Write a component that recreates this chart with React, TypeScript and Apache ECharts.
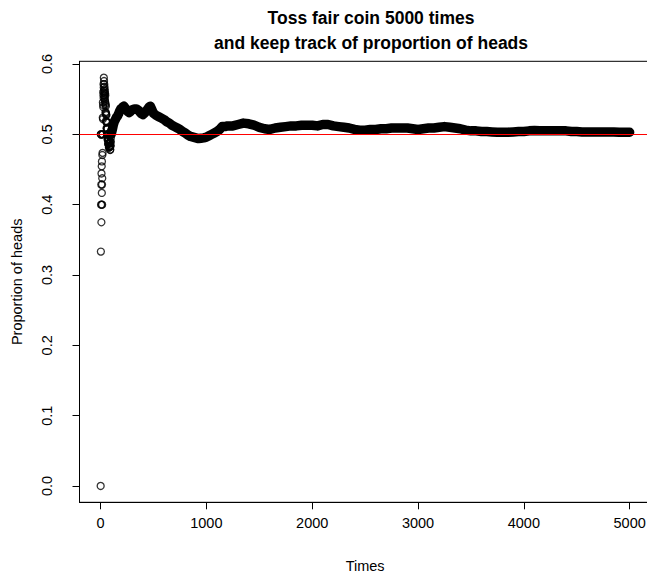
import React, { useEffect, useRef } from "react";
import * as echarts from "echarts";

// Running proportion of heads
// first 100 tosses (one value per toss, times 1..100)
const earlyProportion = [
  0, 0.5, 0.3333, 0.5, 0.4, 0.5, 0.4286, 0.375, 0.4444, 0.4,
  0.4545, 0.4167, 0.4615, 0.4286, 0.4, 0.4375, 0.4706, 0.5, 0.4737, 0.5,
  0.5238, 0.5455, 0.5217, 0.5417, 0.56, 0.5385, 0.5556, 0.5714, 0.5517, 0.5667,
  0.5806, 0.5625, 0.5758, 0.5588, 0.5714, 0.5556, 0.5676, 0.5526, 0.5641, 0.55,
  0.561, 0.5476, 0.5581, 0.5455, 0.5556, 0.5435, 0.5319, 0.5417, 0.5306, 0.54,
  0.5294, 0.5192, 0.5283, 0.5185, 0.5273, 0.5179, 0.5088, 0.5172, 0.5085, 0.5167,
  0.5082, 0.5, 0.5079, 0.5, 0.5077, 0.5, 0.4925, 0.5, 0.4928, 0.5,
  0.493, 0.4861, 0.4932, 0.4865, 0.4933, 0.4868, 0.4935, 0.4872, 0.481, 0.4875,
  0.4815, 0.4878, 0.4819, 0.4881, 0.4824, 0.4884, 0.4828, 0.4886, 0.4831, 0.4778,
  0.4835, 0.4783, 0.4839, 0.4894, 0.4842, 0.4896, 0.4948, 0.5, 0.5051, 0.5,
];

// dense part of the record (times and proportion)
const bandTimes = [
  100, 110, 120, 130, 140, 150, 160, 170, 180, 190, 200, 210, 220, 230, 240, 250,
  260, 270, 280, 290, 300, 320, 340, 360, 380, 400, 420, 440, 460, 470, 480, 500,
  525, 550, 575, 600, 625, 650, 675, 700, 725, 750, 775, 800, 825, 850, 875, 900,
  925, 950, 975, 1000, 1025, 1050, 1075, 1100, 1125, 1150, 1175, 1200, 1250, 1300,
  1350, 1400, 1450, 1500, 1550, 1600, 1650, 1700, 1750, 1800, 1850, 1900, 1950,
  2000, 2050, 2100, 2150, 2200, 2250, 2300, 2350, 2400, 2450, 2500, 2550, 2600,
  2650, 2700, 2750, 2800, 2850, 2900, 2950, 3000, 3050, 3100, 3150, 3200, 3250,
  3300, 3350, 3400, 3450, 3500, 3550, 3600, 3650, 3700, 3750, 3800, 3850, 3900,
  3950, 4000, 4050, 4100, 4150, 4200, 4250, 4300, 4350, 4400, 4450, 4500, 4550,
  4600, 4650, 4700, 4750, 4800, 4850, 4900, 4950, 5000,
];
const bandProportion = [
  0.5, 0.506, 0.513, 0.518, 0.521, 0.524, 0.526, 0.529, 0.533, 0.536, 0.537, 0.539, 0.54, 0.538, 0.536, 0.534,
  0.532, 0.531, 0.532, 0.534, 0.535, 0.536, 0.536, 0.534, 0.53, 0.528, 0.531, 0.535, 0.539, 0.54, 0.537, 0.53,
  0.527, 0.525, 0.523, 0.521, 0.518, 0.516, 0.513, 0.511, 0.509, 0.507, 0.504, 0.502, 0.499, 0.497, 0.496, 0.495,
  0.494, 0.4945, 0.495, 0.496, 0.498, 0.5, 0.502, 0.504, 0.507, 0.511, 0.511, 0.512, 0.512, 0.514,
  0.516, 0.515, 0.513, 0.51, 0.508, 0.507, 0.509, 0.51, 0.511, 0.512, 0.512, 0.513, 0.513,
  0.513, 0.512, 0.514, 0.514, 0.512, 0.511, 0.51, 0.509, 0.507, 0.506, 0.506, 0.507, 0.507,
  0.508, 0.508, 0.509, 0.509, 0.509, 0.509, 0.508, 0.507, 0.508, 0.509, 0.509, 0.51, 0.511,
  0.51, 0.509, 0.508, 0.506, 0.505, 0.505, 0.504, 0.504, 0.5035, 0.503, 0.503, 0.503, 0.5035,
  0.504, 0.504, 0.505, 0.5055, 0.505, 0.505, 0.505, 0.505, 0.505, 0.505, 0.504, 0.504, 0.5035,
  0.5035, 0.5035, 0.5035, 0.5035, 0.5035, 0.5035, 0.503, 0.503, 0.503,
];

const xTicks = [0, 1000, 2000, 3000, 4000, 5000];
const yTicks = [0, 0.1, 0.2, 0.3, 0.4, 0.5, 0.6];
const referenceLevel = 0.5;

const FONT = "'Liberation Sans', Arial, Helvetica, sans-serif";

export default function App() {
  const ref = useRef<HTMLDivElement>(null);

  useEffect(() => {
    if (!ref.current) return;
    const chart = echarts.init(ref.current, null, { renderer: "svg" });

    const earlyData = earlyProportion.map((v, i) => [i + 1, v]);
    const bandData = bandTimes.map((t, i) => [t, bandProportion[i]]);

    chart.setOption({
      animation: false,
      backgroundColor: "#ffffff",
      title: {
        text: "Toss fair coin 5000 times\nand keep track of proportion of heads",
        left: 366,
        top: 0,
        textAlign: "center",
        textStyle: {
          fontFamily: FONT,
          fontSize: 17.5,
          fontWeight: "bold",
          color: "#000",
          lineHeight: 25,
        },
      },
      grid: {
        left: 79.5,
        top: 61.3,
        width: 571.3,
        height: 441,
        show: true,
        borderColor: "#000",
        borderWidth: 1,
        backgroundColor: "transparent",
        outerBoundsMode: "none",
        containLabel: false,
      },
      xAxis: {
        type: "value",
        min: -198.96,
        max: 5199.96,
        splitLine: { show: false },
        axisLine: { show: true, onZero: false, lineStyle: { color: "#000", width: 1 } },
        axisTick: {
          show: true,
          customValues: xTicks,
          length: 7,
          lineStyle: { color: "#000", width: 1 },
        },
        axisLabel: {
          customValues: xTicks,
          margin: 13.5,
          fontSize: 14.5,
          fontFamily: FONT,
          color: "#000",
          formatter: (v: number) => String(Math.round(v)),
        },
        name: "Times",
        nameLocation: "middle",
        nameGap: 56.5,
        nameTextStyle: { fontSize: 14.5, fontFamily: FONT, color: "#000" },
      },
      yAxis: {
        type: "value",
        min: -0.02323,
        max: 0.60388,
        splitLine: { show: false },
        axisLine: { show: true, onZero: false, lineStyle: { color: "#000", width: 1 } },
        axisTick: {
          show: true,
          customValues: yTicks,
          length: 7,
          lineStyle: { color: "#000", width: 1 },
        },
        axisLabel: {
          customValues: yTicks,
          rotate: 90,
          margin: 25,
          fontSize: 14.5,
          fontFamily: FONT,
          color: "#000",
          formatter: (v: number) => v.toFixed(1),
        },
        name: "Proportion of heads",
        nameLocation: "middle",
        nameGap: 55,
        nameTextStyle: { fontSize: 14.5, fontFamily: FONT, color: "#000" },
      },
      series: [
        {
          type: "line",
          name: "band",
          data: bandData,
          showSymbol: false,
          symbol: "none",
          smooth: false,
          lineStyle: { color: "#000", width: 9.5, cap: "round", join: "round" },
          silent: true,
          z: 2,
        },
        {
          type: "scatter",
          name: "early",
          data: earlyData,
          symbol: "circle",
          symbolSize: 7,
          itemStyle: { color: "transparent", borderColor: "#000", borderWidth: 1.3 },
          silent: true,
          z: 3,
        },
        {
          type: "line",
          name: "reference",
          data: [],
          silent: true,
          z: 5,
          markLine: {
            silent: true,
            symbol: ["none", "none"],
            label: { show: false },
            lineStyle: { color: "#ff0000", width: 1, type: "solid" },
            data: [{ yAxis: referenceLevel }],
          },
        },
      ],
    });

    return () => chart.dispose();
  }, []);

  return (
    <div
      ref={ref}
      style={{ position: "fixed", left: 0, top: 0, width: 647, height: 573, background: "#fff" }}
    />
  );
}
